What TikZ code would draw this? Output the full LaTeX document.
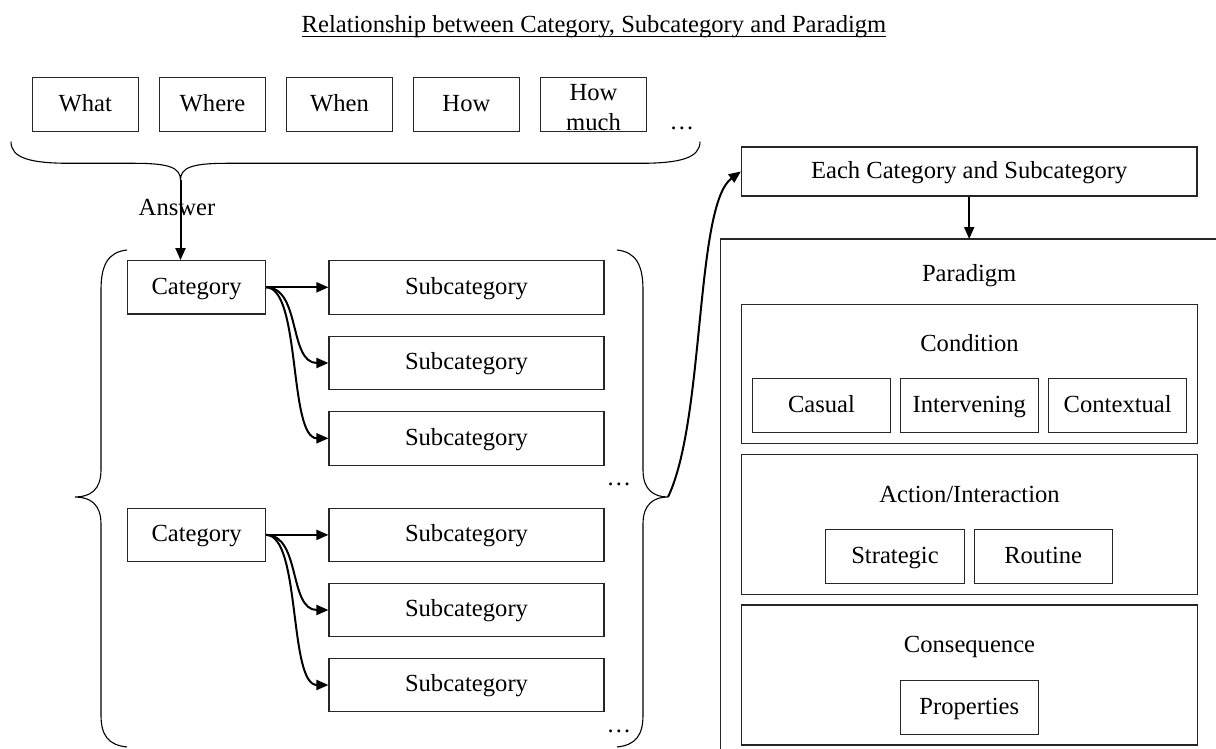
\documentclass[tikz,border=0pt]{standalone}
\usepackage{fontspec}
\setmainfont{Liberation Serif}
\usetikzlibrary{arrows.meta}
\begin{document}
\begin{tikzpicture}[x=1pt,y=-1pt,
  every node/.style={font=\fontsize{24.6}{30}\selectfont},
  framebox/.style={draw=black!85, line width=1.1pt, inner sep=0pt, align=center},
  box/.style={framebox, text height=18pt, text depth=4.5pt},
  qbox/.style={box, minimum width=106pt, minimum height=54.4pt},
  catbox/.style={box, minimum width=137.8pt, minimum height=53.3pt},
  subbox/.style={box, minimum width=275pt, minimum height=53.5pt},
  wide/.style={framebox, minimum width=455.6pt, minimum height=140pt},
  small/.style={box, minimum width=138.2pt, minimum height=54pt},
  lbl/.style={inner sep=0pt, text height=18pt, text depth=4.5pt},
  dots/.style={inner sep=0pt},
  link/.style={line width=2pt, -{Triangle[length=12pt,width=10pt]}},
  brace/.style={line width=1.1pt}]
\useasboundingbox (0,0) rectangle (1216,749);

% title
\node[dots, anchor=base] (title) at (594,33) {Relationship between Category, Subcategory and Paradigm};
\draw[line width=1pt] ([yshift=-4pt]title.base west) -- ([yshift=-4pt]title.base east);

% question boxes
\node[qbox] (what)  at (85.3,104.5)  {What};
\node[qbox] (where) at (212.5,104.5) {Where};
\node[qbox] (when)  at (339.5,104.5) {When};
\node[qbox] (how)   at (466.4,104.5) {How};
\node[framebox, minimum width=106pt, minimum height=54.4pt] (much) at (593.5,104.5) {};
\node[dots, align=center] (muchtxt) at (593.5,107.5) {How\\much};
\node[dots, anchor=base] (qdots) at (682,130) {…};

% brace under the questions
\coordinate (ttip) at (180.5,180);
\draw[brace] (11,141.7) .. controls (11,158) and (30,163.3) .. (70,163.3)
  -- (135,163.3) .. controls (170,163.3) and (180.5,168) .. (ttip)
  .. controls (180.5,168) and (191,163.3) .. (226,163.3)
  -- (640,163.3) .. controls (680,163.3) and (700,158) .. (700,141.7);

% categories and subcategories
\node[catbox] (cat1) at (196.6,287.3) {Category};
\node[catbox] (cat2) at (196.6,534.9) {Category};
\node[subbox] (sub1) at (466.5,287.3) {Subcategory};
\node[subbox] (sub2) at (466.5,363)   {Subcategory};
\node[subbox] (sub3) at (466.5,438.3) {Subcategory};
\node[subbox] (sub4) at (466.5,534.9) {Subcategory};
\node[subbox] (sub5) at (466.5,610)   {Subcategory};
\node[subbox] (sub6) at (466.5,685)   {Subcategory};
\node[dots, anchor=base] (sdots1) at (619,485) {…};
\node[dots, anchor=base] (sdots2) at (619,732) {…};

\node[lbl] (answer) at (177,208.3) {Answer};
\draw[link] (ttip) -- (ttip |- cat1.north);

\draw[link] (cat1.east) -- (sub1.west);
\draw[link] (cat1.east) .. controls +(35,0) and +(-40,0) .. (sub2.west);
\draw[link] (cat1.east) .. controls +(35,0) and +(-40,0) .. (sub3.west);
\draw[link] (cat2.east) -- (sub4.west);
\draw[link] (cat2.east) .. controls +(35,0) and +(-40,0) .. (sub5.west);
\draw[link] (cat2.east) .. controls +(35,0) and +(-40,0) .. (sub6.west);

% side braces around the categories
\draw[brace] (127,250) .. controls (108,252) and (101,265) .. (101,290)
  -- (101,470) .. controls (101,490) and (90,497) .. (75,497)
  .. controls (90,497) and (101,504) .. (101,524)
  -- (101,715) .. controls (101,735) and (108,745) .. (127,747);
\coordinate (rtip) at (668,497);
\draw[brace] (617,250) .. controls (636,252) and (643,265) .. (643,290)
  -- (643,470) .. controls (643,490) and (654,497) .. (rtip)
  .. controls (654,497) and (643,504) .. (643,524)
  -- (643,715) .. controls (643,735) and (636,745) .. (617,747);

% paradigm side
\node[box, minimum width=455.6pt, minimum height=49pt] (each) at (969.2,171.5) {Each Category and Subcategory};
\draw[link] (rtip) .. controls (705,420) and (695,205) .. (each.west);

\coordinate (ptop) at (969.2,239);
\draw[line width=1.1pt, draw=black!85] (1216,239) -- (720.7,239) -- (720.7,749);
\draw[link] (each.south) -- (ptop);
\node[lbl] (paradigm) at (969.2,275) {Paradigm};

\node[wide, minimum height=139.3pt] (cond) at (969.5,373.7) {};
\node[lbl] (condl) at (969.5,345) {Condition};
\node[small] (casual) at (821.5,405.9)  {Casual};
\node[small] (interv) at (969.3,405.9)  {Intervening};
\node[small] (contex) at (1117.7,405.9) {Contextual};

\node[wide, minimum height=140.3pt] (act) at (969.5,524.2) {};
\node[lbl] (actl) at (969.5,496) {Action/Interaction};
\node[small] (strat) at (895,556.5)    {Strategic};
\node[small] (rout)  at (1043.2,556.5) {Routine};

\node[wide] (cons) at (969.5,675) {};
\node[lbl] (consl) at (969.5,646) {Consequence};
\node[small] (prop) at (969.3,707.4) {Properties};
\end{tikzpicture}
\end{document}
